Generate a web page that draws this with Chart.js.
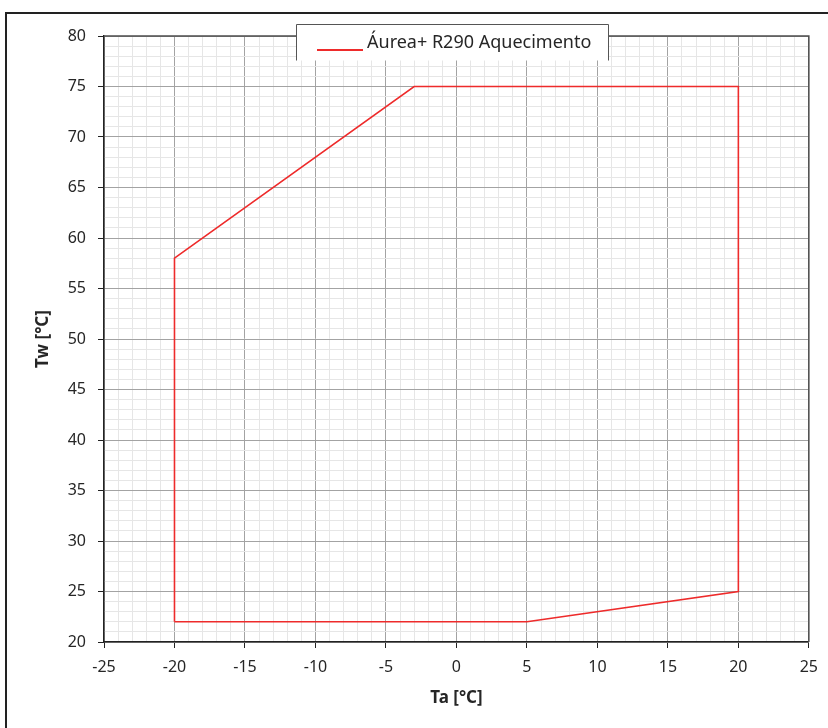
<!DOCTYPE html>
<html>
<head>
<meta charset="utf-8">
<script src="https://cdn.jsdelivr.net/npm/chart.js@4/dist/chart.umd.min.js"></script>
<style>
  html, body { margin: 0; padding: 0; background: #fff; }
  #wrap { width: 828px; height: 728px; position: relative; }
</style>
</head>
<body>
<div id="wrap"><canvas id="c" width="828" height="728"></canvas></div>
<script>
// Operating envelope (air temperature vs. water temperature)
const seriesLabel = 'Áurea+ R290 Aquecimento';
const envelopeTa = [-20, 5, 20, 20, -3, -20, -20];
const envelopeTw = [22, 22, 25, 75, 75, 58, 22];
const xTitle = 'Ta [°C]';
const yTitle = 'Tw [°C]';
const xRange = [-25, 25];
const yRange = [20, 80];
const majorStep = 5;

const lineColor = '#ee2b2b';
const majorGrid = '#a3a3a3';
const minorGrid = '#e6e6e6';
const textColor = '#262626';
const fontFamily = '"Noto Sans", "Open Sans", sans-serif';

const points = envelopeTa.map((x, i) => ({ x: x, y: envelopeTw[i] }));

const isMajor = v => Math.abs(v % majorStep) < 1e-9;

// Frame around the whole figure, plot-area box and in-plot legend
const decorations = {
  id: 'decorations',
  beforeDraw(chart) {
    const ctx = chart.ctx;
    ctx.save();
    ctx.fillStyle = '#fff';
    ctx.fillRect(0, 0, chart.width, chart.height);
    ctx.restore();
  },
  afterDraw(chart) {
    const ctx = chart.ctx;
    const a = chart.chartArea;
    ctx.save();
    // plot area top/right edges
    ctx.strokeStyle = '#4d4d4d';
    ctx.lineWidth = 1.5;
    ctx.beginPath();
    ctx.moveTo(a.left, a.top);
    ctx.lineTo(a.right, a.top);
    ctx.lineTo(a.right, a.bottom);
    ctx.stroke();

    // outer frame
    ctx.strokeStyle = '#222';
    ctx.lineWidth = 2;
    ctx.beginPath();
    ctx.moveTo(6, chart.height + 5);
    ctx.lineTo(6, 13);
    ctx.lineTo(chart.width + 5, 13);
    ctx.stroke();

    // legend box
    const bx = 296.5, by = 24.5, bw = 312, bh = 36;
    ctx.fillStyle = '#fff';
    ctx.fillRect(bx, by, bw, bh);
    ctx.strokeStyle = '#555';
    ctx.lineWidth = 1;
    ctx.beginPath();
    ctx.moveTo(bx, by + bh);
    ctx.lineTo(bx, by);
    ctx.lineTo(bx + bw, by);
    ctx.lineTo(bx + bw, by + bh);
    ctx.stroke();

    const ds = chart.data.datasets[0];
    ctx.strokeStyle = ds.borderColor;
    ctx.lineWidth = 2;
    ctx.beginPath();
    ctx.moveTo(317, 50);
    ctx.lineTo(363, 50);
    ctx.stroke();

    ctx.fillStyle = textColor;
    ctx.font = '18px ' + fontFamily;
    ctx.textBaseline = 'alphabetic';
    ctx.textAlign = 'left';
    ctx.fillText(ds.label, 367, 48);
    ctx.restore();
  }
};

new Chart(document.getElementById('c'), {
  type: 'scatter',
  data: {
    datasets: [{
      label: seriesLabel,
      data: points,
      showLine: true,
      borderColor: lineColor,
      backgroundColor: lineColor,
      borderWidth: 1.6,
      pointRadius: 0,
      pointHoverRadius: 0,
      tension: 0,
      fill: false
    }]
  },
  options: {
    responsive: false,
    animation: false,
    devicePixelRatio: 1,
    layout: { padding: { left: 0, right: 18, top: 36, bottom: 0 } },
    plugins: {
      legend: { display: false },
      tooltip: { enabled: false }
    },
    scales: {
      x: {
        type: 'linear',
        min: xRange[0],
        max: xRange[1],
        afterFit(scale) { scale.height = 86; },
        border: { display: true, color: '#222', width: 1.5 },
        grid: {
          color: c => isMajor(c.tick.value) ? majorGrid : minorGrid,
          lineWidth: 1,
          drawTicks: true,
          tickLength: 6,
          tickColor: c => isMajor(c.tick.value) ? '#222' : 'rgba(0,0,0,0)'
        },
        ticks: {
          stepSize: 1,
          autoSkip: false,
          maxRotation: 0,
          padding: 10,
          color: textColor,
          font: { family: fontFamily, size: 16 },
          callback: v => isMajor(v) ? String(v) : ''
        },
        title: {
          display: true,
          text: xTitle,
          color: textColor,
          font: { family: fontFamily, size: 17, weight: 'bold' },
          padding: { top: 0, bottom: 20 }
        }
      },
      y: {
        type: 'linear',
        min: yRange[0],
        max: yRange[1],
        afterFit(scale) { scale.width = 104; },
        border: { display: true, color: '#222', width: 1.5 },
        grid: {
          color: c => isMajor(c.tick.value) ? majorGrid : minorGrid,
          lineWidth: 1,
          drawTicks: true,
          tickLength: 6,
          tickColor: c => isMajor(c.tick.value) ? '#222' : 'rgba(0,0,0,0)'
        },
        ticks: {
          stepSize: 1,
          autoSkip: false,
          padding: 12,
          color: textColor,
          font: { family: fontFamily, size: 16 },
          callback: v => isMajor(v) ? String(v) : ''
        },
        title: {
          display: true,
          text: yTitle,
          color: textColor,
          font: { family: fontFamily, size: 17, weight: 'bold' },
          padding: { top: 33, bottom: 0 }
        }
      }
    }
  },
  plugins: [decorations]
});
</script>
</body>
</html>
